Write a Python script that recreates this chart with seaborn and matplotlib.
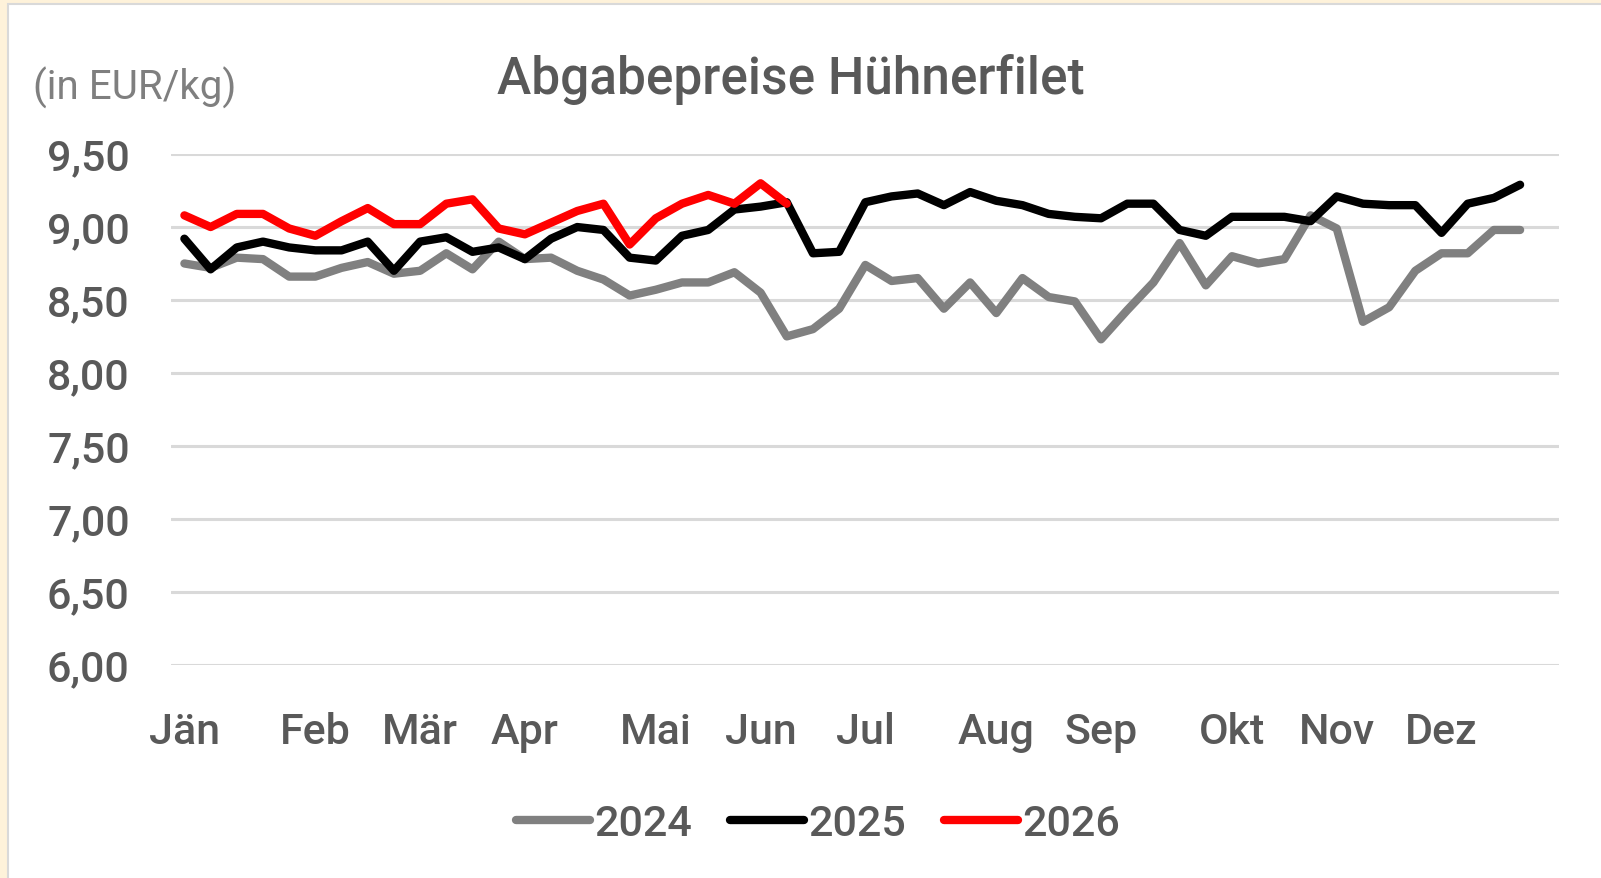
import numpy as np
import pandas as pd
import matplotlib
matplotlib.use("Agg")
import matplotlib.pyplot as plt
from matplotlib.patches import Rectangle
import seaborn as sns

# weekly prices (EUR/kg)
preis_2024 = [8.75, 8.72, 8.79, 8.78, 8.66, 8.66, 8.72, 8.76, 8.68, 8.70,
              8.82, 8.71, 8.90, 8.78, 8.79, 8.70, 8.64, 8.53, 8.57, 8.62,
              8.62, 8.69, 8.55, 8.25, 8.30, 8.44, 8.74, 8.63, 8.65, 8.44,
              8.62, 8.41, 8.65, 8.52, 8.49, 8.23, 8.43, 8.62, 8.89, 8.60,
              8.80, 8.75, 8.78, 9.08, 8.99, 8.35, 8.45, 8.70, 8.82, 8.82,
              8.98, 8.98]
preis_2025 = [8.92, 8.71, 8.86, 8.90, 8.86, 8.84, 8.84, 8.90, 8.70, 8.90,
              8.93, 8.83, 8.86, 8.78, 8.92, 9.00, 8.98, 8.79, 8.77, 8.94,
              8.98, 9.12, 9.14, 9.17, 8.82, 8.83, 9.17, 9.21, 9.23, 9.15,
              9.24, 9.18, 9.15, 9.09, 9.07, 9.06, 9.16, 9.16, 8.98, 8.94,
              9.07, 9.07, 9.07, 9.04, 9.21, 9.16, 9.15, 9.15, 8.96, 9.16,
              9.20, 9.29]
preis_2026 = [9.08, 9.00, 9.09, 9.09, 8.99, 8.94, 9.04, 9.13, 9.02, 9.02,
              9.16, 9.19, 8.99, 8.95, 9.03, 9.11, 9.16, 8.88, 9.06, 9.16,
              9.22, 9.16, 9.30, 9.16]

monate = ["Jän", "Feb", "Mär", "Apr", "Mai", "Jun", "Jul", "Aug", "Sep",
          "Okt", "Nov", "Dez"]
monat_kw = [0, 5, 9, 13, 18, 22, 26, 31, 35, 40, 44, 48]  # week index of month label
y_ticks = [6.0, 6.5, 7.0, 7.5, 8.0, 8.5, 9.0, 9.5]
n_wochen = 53

sns.set_theme(style="white")
plt.rcParams['font.family'] = ['Roboto', 'DejaVu Sans']
plt.rcParams['font.weight'] = 'medium'

text_col = "#595959"

fig = plt.figure(figsize=(16.01, 8.785), dpi=100)
fig.patch.set_facecolor("#FEF2DA")
# white chart area with thin border, cream page showing at top/left
fig.patches.append(Rectangle((8 / 1601, -0.01), 1.02, 1 - 4 / 878 + 0.01,
                             transform=fig.transFigure, facecolor="white",
                             edgecolor="#D9D9D9", lw=1.5, zorder=-5))

ax = fig.add_axes([0.107, 0.243, 0.867, 0.581])
ax.patch.set_alpha(0)

serien = [("2024", preis_2024, "#808080"),
          ("2025", preis_2025, "#000000"),
          ("2026", preis_2026, "#FF0000")]
for jahr, werte, farbe in serien:
    df = pd.DataFrame({"kw": np.arange(len(werte)), "preis": werte})
    sns.lineplot(data=df, x="kw", y="preis", color=farbe, linewidth=6,
                 label=jahr, ax=ax, solid_capstyle="round",
                 solid_joinstyle="round")

ax.set_xlim(-0.5, n_wochen - 0.5)
ax.set_ylim(6.0, 9.5)
ax.set_yticks(y_ticks)
ax.set_yticklabels([f"{v:.2f}".replace(".", ",") for v in y_ticks])
ax.set_xticks(monat_kw)
ax.set_xticklabels(monate)
ax.set_xlabel("")
ax.set_ylabel("")
ax.grid(axis="y", color="#D9D9D9", linewidth=2.2)
ax.set_axisbelow(True)
for s in ax.spines.values():
    s.set_visible(False)
ax.tick_params(axis="both", length=0, labelsize=31, colors=text_col)
ax.tick_params(axis="y", pad=30)
ax.tick_params(axis="x", pad=34)

fig.text(0.494, 0.909, "Abgabepreise Hühnerfilet", ha="center", va="center",
         fontsize=37, color=text_col)
fig.text(0.0204, 0.90, "(in EUR/kg)", ha="left", va="center",
         fontsize=29, color="#7F7F7F", fontweight="normal")

ax.legend(loc="center", bbox_to_anchor=(0.511, 0.062),
          bbox_transform=fig.transFigure, ncol=3, frameon=False,
          fontsize=31, handlelength=1.7, handletextpad=0.1,
          columnspacing=0.9, labelcolor=text_col)

fig.savefig("out.png", dpi=100, facecolor=fig.get_facecolor())
